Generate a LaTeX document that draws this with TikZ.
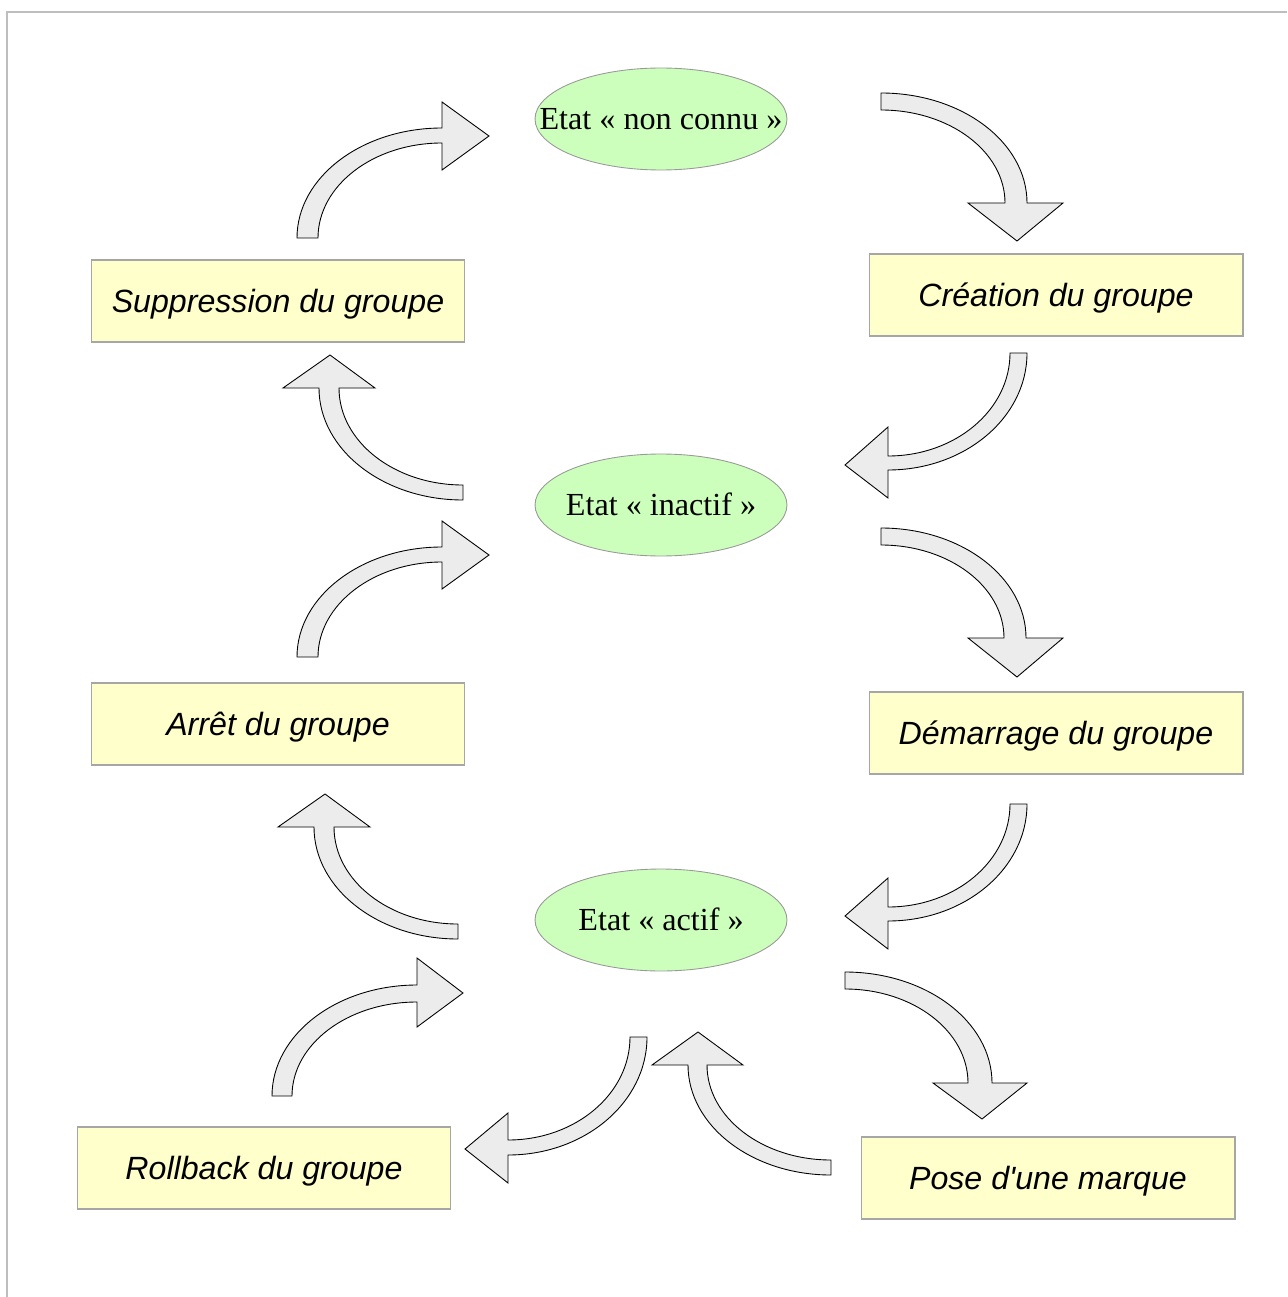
\documentclass[tikz,border=0pt]{standalone}
\usepackage{fontspec}
\setmainfont{Liberation Serif}
\setsansfont{Liberation Sans}[Ligatures=TeXOff]
\usetikzlibrary{shapes.geometric,calc}
\definecolor{ellfill}{RGB}{204,255,187}
\definecolor{boxfill}{RGB}{255,255,204}
\definecolor{arrfill}{RGB}{236,236,236}
\definecolor{framegray}{RGB}{190,190,190}

\tikzset{
  arrowshape/.style={draw=black, line width=0.5pt, fill=arrfill, line join=miter},
  stateell/.style={ellipse, draw=gray!80, line width=0.5pt, fill=ellfill, minimum width=5.04cm, minimum height=2.04cm, inner sep=0pt},
  statetext/.style={font=\fontsize{18.3}{22}\selectfont, inner sep=0pt, text height=12.3pt, text depth=0pt},
  actionbox/.style={rectangle, draw=gray!70, line width=0.6pt, fill=boxfill, minimum width=7.48cm, minimum height=1.64cm, inner sep=0pt, text height=13.1pt, text depth=0pt, font=\sffamily\itshape\fontsize{18.3}{22}\selectfont},
  framestyle/.style={draw=framegray, line width=1.1pt}
}

% #1 centre, #2 start angle, #3 end angle, #4 outer radii, #5 inner radii,
% #6 head outer radius, #7 head inner radius, #8 tip radius, #9 head length
\newcommand\blockarrow[9]{%
  \pgfmathsetmacro\bTang{#3+90*sign(#3-#2)}%
  \draw[arrowshape] ($#1+(#2:#4)$) arc (#2:#3:#4) -- ($#1+(#3:#6)$)
    -- ($#1+(#3:#8)+(\bTang:#9)$) -- ($#1+(#3:#7)$) -- ($#1+(#3:#5)$)
    arc (#3:#2:#5) -- cycle;
}

\begin{document}
\begin{tikzpicture}[x=0.02cm, y=-0.02cm]
\useasboundingbox (0,0) rectangle (1287,1297);
\draw[framestyle] (7,1297) -- (7,12) -- (1287,12);

% states
\node[stateell] (nonconnu) at (661,119) {};
\node[statetext] (nonconnutext) at (nonconnu) {Etat « non connu »};
\node[stateell] (inactif) at (661,505) {};
\node[statetext] (inactiftext) at (inactif) {Etat « inactif »};
\node[stateell] (actif) at (661,920) {};
\node[statetext] (actiftext) at (actif) {Etat « actif »};

% actions
\node[actionbox] (suppr) at (278,301) {Suppression du groupe};
\node[actionbox] (creation) at (1056,295) {Création du groupe};
\node[actionbox] (arret) at (278,724) {Arrêt du groupe};
\node[actionbox] (demarrage) at (1056,733) {Démarrage du groupe};
\node[actionbox] (rollback) at (264,1168) {Rollback du groupe};
\node[actionbox] (pose) at (1048,1178) {Pose d'une marque};

% block arrows
\blockarrow{(442,238)}{180}{270}{145 and 110}{124 and 95}{136}{68}{102}{47}
\blockarrow{(442,657)}{180}{270}{145 and 110}{124 and 95}{136}{68}{102}{47}
\blockarrow{(417,1096)}{180}{270}{145 and 111}{125 and 94}{138}{69}{103}{46}

\blockarrow{(881,203)}{270}{360}{146 and 110}{124 and 93}{182}{87}{136}{38}
\blockarrow{(881,638)}{270}{360}{145 and 110}{123 and 93}{182}{87}{136}{39}
\blockarrow{(845,1083)}{270}{360}{147 and 111}{123 and 94}{182}{88}{137}{36}

\blockarrow{(888,353)}{0}{90}{139 and 117}{122 and 103}{145}{74}{112}{43}
\blockarrow{(888,804)}{0}{90}{139 and 117}{122 and 103}{145}{74}{112}{43}
\blockarrow{(508,1037)}{0}{90}{139 and 118}{122 and 103}{146}{76}{112}{43}

\blockarrow{(463,388)}{90}{180}{144 and 112}{124 and 97}{180}{88}{133}{33}
\blockarrow{(458,827)}{90}{180}{144 and 112}{124 and 97}{180}{88}{133}{33}
\blockarrow{(831,1065)}{90}{180}{143 and 110}{124 and 95}{179}{88}{133}{33}
\end{tikzpicture}
\end{document}
